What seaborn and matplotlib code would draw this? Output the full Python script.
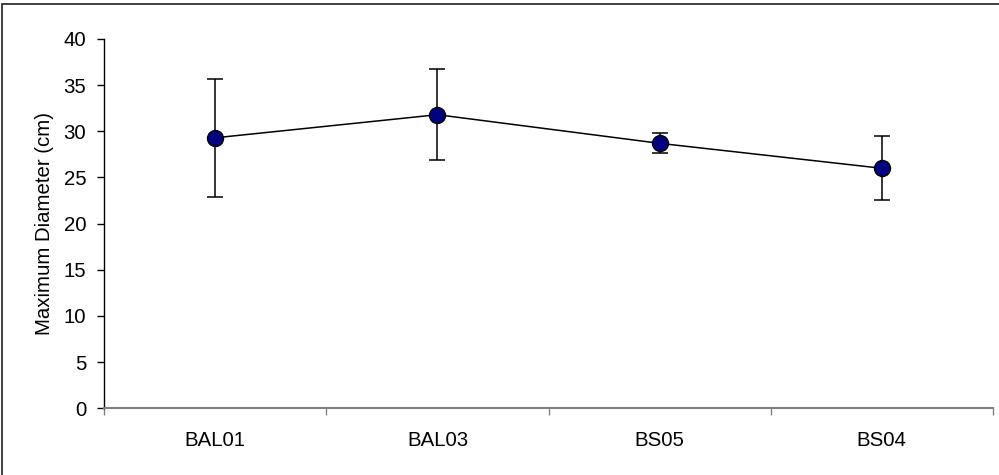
import matplotlib
matplotlib.use("Agg")
import matplotlib.pyplot as plt
from matplotlib.patches import Rectangle
import seaborn as sns
import pandas as pd

# Site means and standard deviations of maximum diameter
sites = ["BAL01", "BAL03", "BS05", "BS04"]
mean_diameter = [29.3, 31.8, 28.7, 26.0]
sd_diameter = [6.4, 4.9, 1.1, 3.45]
y_ticks = [0, 5, 10, 15, 20, 25, 30, 35, 40]

sns.set_theme(style="white")
plt.rcParams["font.family"] = ["Liberation Sans", "DejaVu Sans"]

df = pd.DataFrame({"site": sites, "diameter": mean_diameter, "sd": sd_diameter})

fig = plt.figure(figsize=(9.99, 4.75), dpi=100)
ax = fig.add_axes([0.1044, 0.1404, 0.8893, 0.7775])

# Error bars drawn first so markers sit on top
ax.errorbar(range(len(sites)), df["diameter"], yerr=df["sd"], fmt="none",
            ecolor="black", elinewidth=1.1, capsize=5.6, capthick=1.1, zorder=2)

sns.pointplot(data=df, x="site", y="diameter", order=sites, color="black",
              errorbar=None, markers="o", linestyles="-", ax=ax,
              markersize=11.5, linewidth=1.1, zorder=3)
for line in ax.lines:
    if line.get_marker() == "o":
        line.set_markerfacecolor("#000080")
        line.set_markeredgecolor("black")
        line.set_markeredgewidth(1.0)

ax.set_xlim(-0.5, len(sites) - 0.5)
ax.set_ylim(0, 40)
ax.set_yticks(y_ticks)
ax.set_yticklabels([str(v) for v in y_ticks], fontsize=14.7, color="black")

# Category boundaries as major ticks, names centred as minor ticks
ax.set_xticks([i - 0.5 for i in range(len(sites) + 1)])
ax.set_xticklabels([])
ax.set_xticks(range(len(sites)), minor=True)
ax.set_xticklabels(sites, minor=True, fontsize=14.7, color="black")
ax.tick_params(axis="x", which="major", direction="out", length=5, width=1,
               color="#808080", bottom=True)
ax.tick_params(axis="x", which="minor", length=0, pad=16)
ax.tick_params(axis="y", direction="out", length=5, width=1, color="black",
               left=True, pad=8)

ax.set_xlabel("")
ax.set_ylabel("Maximum Diameter (cm)", fontsize=14.7, color="black", labelpad=7)

for side in ["top", "right"]:
    ax.spines[side].set_visible(False)
ax.spines["left"].set_color("black")
ax.spines["left"].set_linewidth(1.0)
ax.spines["bottom"].set_color("#808080")
ax.spines["bottom"].set_linewidth(1.5)
ax.grid(False)

# Frame around the chart area
fig.patches.append(Rectangle((2 / 999, -0.1), 1.2, (471 / 475) + 0.1,
                             transform=fig.transFigure, fill=False,
                             edgecolor="#202020", linewidth=1.2))

fig.savefig("out.png", dpi=100, facecolor="white")
